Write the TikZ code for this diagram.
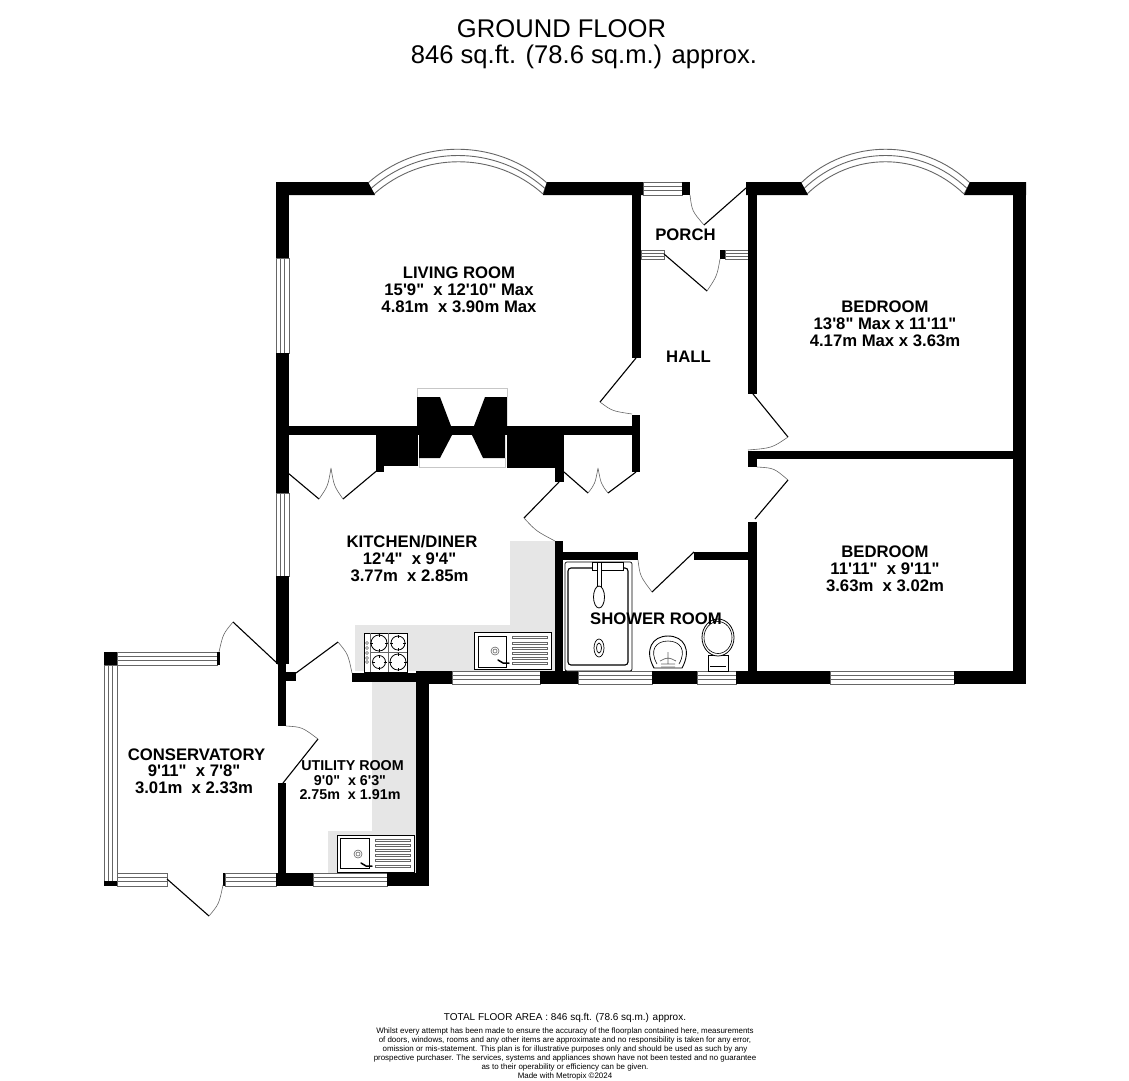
\documentclass[tikz,border=0pt]{standalone}
\usepackage{fontspec}
\newfontfamily\planfont{Liberation Sans}
\definecolor{counter}{HTML}{E6E6E6}
\definecolor{frame}{HTML}{666666}
\tikzset{
  roomlabel/.style={inner sep=0pt,align=center,font=\planfont\bfseries\fontsize{16.7}{17}\selectfont},
  smalllabel/.style={inner sep=0pt,align=center,font=\planfont\bfseries\fontsize{14.3}{14.7}\selectfont},
  titlelabel/.style={inner sep=0pt,font=\planfont\fontsize{25.6}{30}\selectfont},
  wall/.style={fill=black},
  counterarea/.style={fill=counter},
  glass/.style={draw=frame,line width=0.8pt,fill=white},
  leaf/.style={draw=black,line width=1.1pt},
  swing/.style={draw=frame,line width=0.6pt},
  fitting/.style={draw=black,line width=1pt,fill=white}
}
\begin{document}
\begin{tikzpicture}[x=1pt,y=-1pt]
  \useasboundingbox (0,0) rectangle (1129,1080);
  % worktops
  \fill[counterarea] (510,541) -- (555,541) -- (555,671) -- (355,671) -- (355,625) -- (510,625) -- cycle;
  \fill[counterarea] (372,682) -- (416,682) -- (416,873) -- (328,873) -- (328,831) -- (372,831) -- cycle;
  % windows, horizontal then vertical
  \foreach \xa/\ya/\xb/\yb in {643/182/682/195,641/250/664/259,725/250/748/259,452/671/540/684,578/671/652/684,697/671/736/684,830/671/954/684,313/873/387/886,117/652/217/665,117/873/167/886,225/873/276/886}{
    \draw[glass] (\xa,\ya) rectangle (\xb,\yb);
    \draw[frame,line width=0.8pt] (\xa,{(2*\ya+\yb)/3}) -- (\xb,{(2*\ya+\yb)/3}) (\xa,{(\ya+2*\yb)/3}) -- (\xb,{(\ya+2*\yb)/3});
  }
  \foreach \xa/\ya/\xb/\yb in {276/258/289/353,276/493/289/576,104/665/117/881}{
    \draw[glass] (\xa,\ya) rectangle (\xb,\yb);
    \draw[frame,line width=0.8pt] ({(2*\xa+\xb)/3},\ya) -- ({(2*\xa+\xb)/3},\yb) ({(\xa+2*\xb)/3},\ya) -- ({(\xa+2*\xb)/3},\yb);
  }
  % bay windows
  \foreach \xa/\ya/\xb/\xc/\xd/\yc in {368/183/419/496/547/138,371/188.5/420.5/495.5/545/144.5,374/194/422/495/543/151,801/183/848/923/970/138,804/188.5/850/921/967/144.5,807/194/852/919/964/151}{
    \draw[frame,line width=0.9pt] (\xa,\ya) .. controls (\xb,\yc) and (\xc,\yc) .. (\xd,\ya);
  }
  \draw[frame,line width=0.8pt] (368,183) -- (374,194) (547,183) -- (543,194) (801,183) -- (807,194) (970,183) -- (964,194);
  % outer and inner walls
  \fill[wall] (276,182) -- (368,182) -- (375,195) -- (276,195) -- cycle;
  \fill[wall] (547,182) -- (643,182) -- (643,195) -- (543,195) -- cycle;
  \fill[wall] (746,182) -- (801,182) -- (808,195) -- (746,195) -- cycle;
  \fill[wall] (970,182) -- (1026,182) -- (1026,195) -- (964,195) -- cycle;
  \foreach \xa/\ya/\xb/\yb in {682/182/690/195,1013/182/1026/684,276/182/289/258,276/353/289/493,276/576/289/664,278/664/286/726,278/672/296/681,278/783/286/873,276/873/313/886,387/873/429/886,416/671/429/886,352/673/416/682,416/671/452/684,540/671/578/684,652/671/697/684,736/671/830/684,954/671/1026/684,632/182/641/358,632/415/640/472,288/426/632/435,748/182/757/394,748/451/1013/459,748/451/757/467,748/522/757/684,555/426/564/482,555/541/563/684,563/552/638/560,694/552/750/560,720/250/725/259,104/652/117/665,104/881/117/886,217/652/220/665,223/873/225/886}{
    \fill[wall] (\xa,\ya) rectangle (\xb,\yb);
  }
  % chimney breast
  \draw[counter!70!gray,line width=0.8pt] (417,397) -- (417,388) -- (507,388) -- (507,397) (419,458) -- (419,467) -- (505,467) -- (505,458);
  \fill[wall] (376,426) rectangle (384,472);
  \fill[wall] (384,435) rectangle (418,466);
  \fill[wall] (507,435) rectangle (555,468);
  \fill[wall] (417,397) -- (440,397) -- (451,426) -- (474,426) -- (485,397) -- (507,397) -- (507,430) -- (417,430) -- cycle;
  \fill[wall] (419,435) -- (452,435) -- (440,458) -- (419,458) -- cycle;
  \fill[wall] (472,435) -- (505,435) -- (505,458) -- (483,458) -- cycle;
  % doors
  \draw[leaf] (746,188) -- (704,225) (664,254) -- (707,291) (636,358) -- (600,402) (753,394) -- (788,437) (755,519) -- (788,480)
    (288,473) -- (319,499) (343,499) -- (380,468) (564,472) -- (588,493) (608,493) -- (636,472) (559,482) -- (524,518)
    (652,592) -- (694,552) (278,664) -- (233,622) (296,673) -- (338,642) (318,739) -- (283,783) (167,879) -- (209,916);
  \draw[swing] (690,195) .. controls (692,211) .. (704,225) (720,259) .. controls (717,276) .. (707,291)
    (600,402) .. controls (612,411) .. (632,414) (788,437) .. controls (772,448) .. (748,450) (757,467) .. controls (774,468) .. (788,480)
    (319,499) .. controls (328,486) .. (331,468) (343,499) .. controls (334,486) .. (331,468)
    (588,493) .. controls (595,484) .. (598,468) (608,493) .. controls (601,484) .. (598,468)
    (524,518) .. controls (536,531) .. (555,541) (638,560) .. controls (640,576) .. (652,592)
    (233,622) .. controls (223,634) .. (219,652) (338,642) .. controls (348,654) .. (352,673)
    (286,726) .. controls (302,727) .. (318,739) (209,916) .. controls (219,904) .. (223,885);
  % hob
  \draw[black,line width=0.7pt,fill=white] (364,633) rectangle (407,672);
  \draw[frame,line width=0.5pt] (370,633) -- (370,672) (388,633) -- (388,672) (370,652) -- (407,652);
  \foreach \cx/\cy/\cr in {379/643/8,398/643/7,379/662/6.5,398/662/8}{
    \draw[black,line width=0.8pt,fill=white] (\cx,\cy) circle (\cr);
    \draw[black,line width=0.5pt] (\cx-\cr-1,\cy) -- (\cx-\cr+2,\cy) (\cx+\cr-2,\cy) -- (\cx+\cr+1,\cy) (\cx,\cy-\cr-1) -- (\cx,\cy-\cr+2) (\cx,\cy+\cr-2) -- (\cx,\cy+\cr+1);
  }
  \foreach \cy in {643,648,653,658,662}{
    \draw[frame,line width=0.4pt] (367,\cy) circle (1.5);
  }
  % sinks
  \draw[fitting] (474,632) rectangle (551,669);
  \draw[black,line width=0.7pt] (478,636) rectangle (506,667);
  \draw[frame,line width=0.6pt] (495,651) circle (4) (495,651) circle (2);
  \draw[black,line width=1.5pt,line cap=round] (498,660) -- (503,663) -- (509,663);
  \foreach \cy in {637,643,648,653,658,663}{
    \draw[frame,line width=0.4pt,fill=white] (512,\cy-1) rectangle (547,\cy+1);
  }
  \draw[fitting] (337,835) rectangle (414,872);
  \draw[black,line width=0.7pt] (340,838) rectangle (369,868);
  \draw[frame,line width=0.6pt] (358,854) circle (4) (358,854) circle (2);
  \draw[black,line width=1.5pt,line cap=round] (361,863) -- (366,866) -- (372,866);
  \foreach \cy in {840,845,850,855,860,866}{
    \draw[frame,line width=0.4pt,fill=white] (375,\cy-1) rectangle (410,\cy+1);
  }
  % shower tray
  \draw[black,line width=0.7pt,rounded corners=2pt,fill=white] (565,562) rectangle (632,671);
  \draw[black,line width=1.1pt,rounded corners=3pt] (568,568) rectangle (628,665);
  \draw[black,line width=0.6pt,fill=white] (592,562) rectangle (623,570);
  \draw[black,line width=0.7pt,fill=white] (597,562) rectangle (601,587);
  \draw[black,line width=0.8pt,fill=white] (599,597) ellipse (5.5 and 11);
  \draw[black,line width=0.7pt] (599,648) ellipse (5 and 9) (599,648) ellipse (2.5 and 5);
  % basin and pan
  \draw[black,line width=0.9pt,fill=white] (654,668) .. controls (644,650) and (652,636) .. (668,636) .. controls (684,636) and (692,650) .. (682,668) -- cycle;
  \draw[black,line width=0.6pt] (657,664) .. controls (649,650) and (656,641) .. (668,641) .. controls (680,641) and (687,650) .. (679,664);
  \draw[frame,line width=0.7pt] (668,652) -- (668,664) (660,661) .. controls (668,657) .. (676,661) (661,664) -- (675,664) (661,667) -- (675,667);
  \draw[black,line width=0.7pt,fill=white] (708,671) -- (708,655) -- (728,655) -- (728,671) -- cycle (710,666) -- (726,666);
  \draw[black,line width=0.8pt,fill=white] (718,637.5) ellipse (16 and 18.5);
  \draw[black,line width=0.6pt] (718,637.5) ellipse (14 and 16);
  % room labels
  \node[roomlabel] (living) at (459,289.7) {LIVING ROOM\\15'9"\ \ x 12'10" Max\\4.81m\ \ x 3.90m Max};
  \node[roomlabel] (bedfront) at (885,323.7) {BEDROOM\\13'8" Max x 11'11"\\4.17m Max x 3.63m};
  \node[roomlabel] (bedrear) at (885,568.5) {BEDROOM\\11'11"\ \ x 9'11"\\3.63m\ \ x 3.02m};
  \node[roomlabel] (porch) at (685.5,234.7) {PORCH};
  \node[roomlabel] (hall) at (688.5,356.7) {HALL};
  \node[roomlabel] (shower) at (656,618.7) {SHOWER ROOM};
  \node[roomlabel] (kitchen) at (412,541.7) {KITCHEN/DINER};
  \node[roomlabel] (kitchensize) at (409.5,567) {12'4"\ \ x 9'4"\\3.77m\ \ x 2.85m};
  \node[roomlabel] (conserv) at (196.5,754.7) {CONSERVATORY};
  \node[roomlabel] (conservsize) at (194,779.7) {9'11"\ \ x 7'8"\\3.01m\ \ x 2.33m};
  \node[smalllabel] (utility) at (352.5,765.7) {UTILITY ROOM};
  \node[smalllabel] (utilitysize) at (350,787.7) {9'0"\ \ x 6'3"\\2.75m\ \ x 1.91m};
  % title and notes
  \node[titlelabel] (title) at (561.5,29) {GROUND FLOOR};
  \node[titlelabel] (area) at (584,56.5) {846 sq.ft. (78.6 sq.m.) approx.};
  \node[inner sep=0pt,font=\planfont\fontsize{10}{12}\selectfont] (total) at (565,1018) {TOTAL FLOOR AREA : 846 sq.ft. (78.6 sq.m.) approx.};
  \node[inner sep=0pt,align=center,anchor=north,font=\planfont\fontsize{7.93}{8.95}\selectfont] (notes) at (565,1028) {Whilst every attempt has been made to ensure the accuracy of the floorplan contained here, measurements\\of doors, windows, rooms and any other items are approximate and no responsibility is taken for any error,\\omission or mis-statement. This plan is for illustrative purposes only and should be used as such by any\\prospective purchaser. The services, systems and appliances shown have not been tested and no guarantee\\as to their operability or efficiency can be given.\\Made with Metropix \textcopyright 2024};
\end{tikzpicture}
\end{document}
